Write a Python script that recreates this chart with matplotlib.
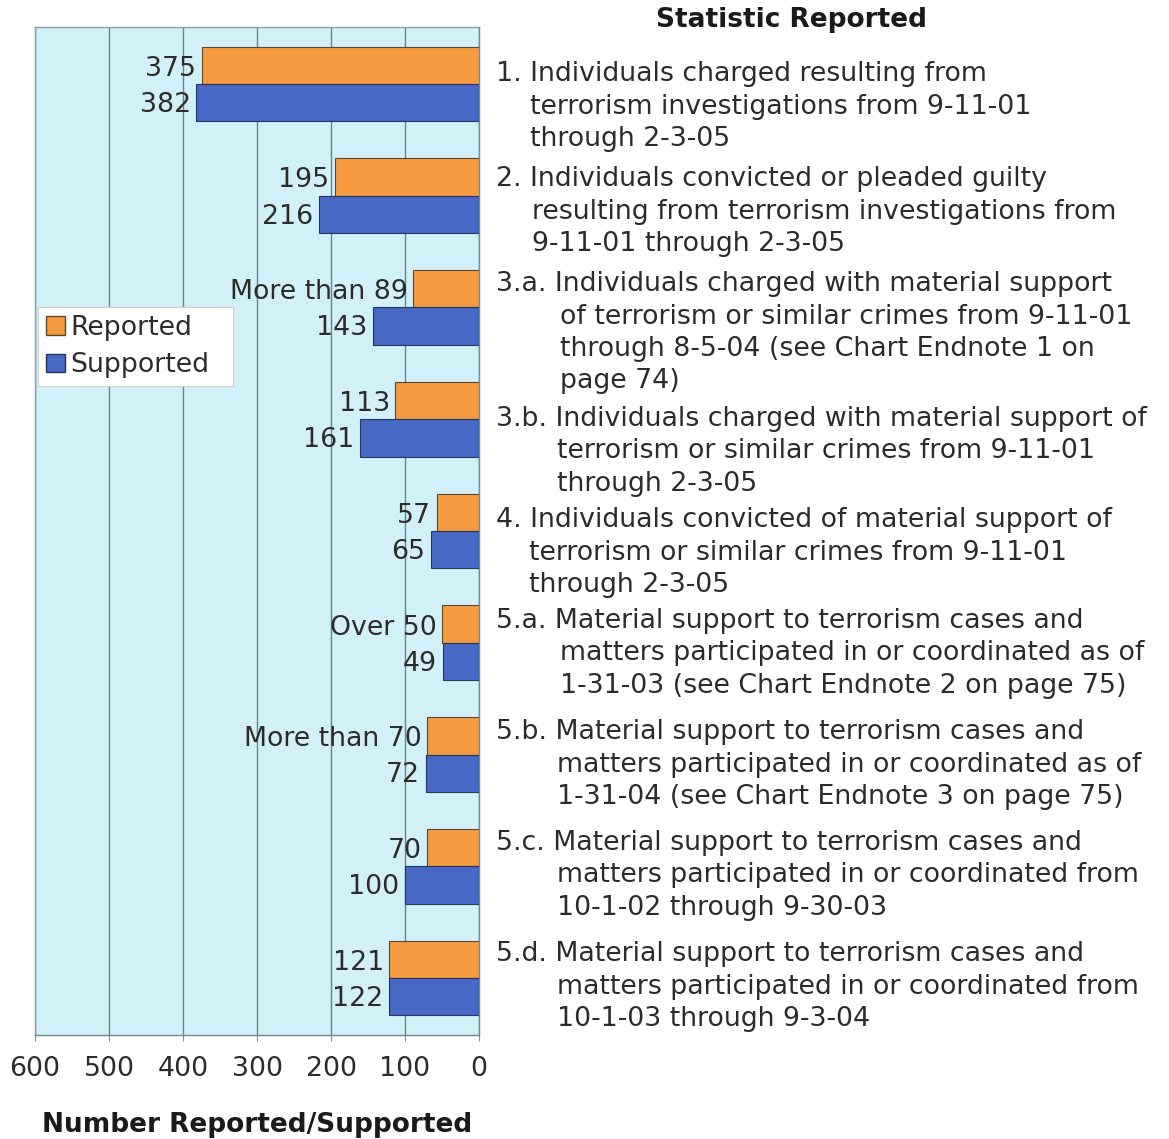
import numpy as np
import matplotlib
matplotlib.use("Agg")
import matplotlib.pyplot as plt
from matplotlib.patches import Patch

# data
reported = [375, 195, 89, 113, 57, 50, 70, 70, 121]
supported = [382, 216, 143, 161, 65, 49, 72, 100, 122]
reported_labels = ["375", "195", "More than 89", "113", "57", "Over 50", "More than 70", "70", "121"]
supported_labels = ["382", "216", "143", "161", "65", "49", "72", "100", "122"]
x_ticks = [600, 500, 400, 300, 200, 100, 0]

prefixes = ["1.", "2.", "3.a.", "3.b.", "4.", "5.a.", "5.b.", "5.c.", "5.d."]
statements = [
    ["Individuals charged resulting from", "terrorism investigations from 9-11-01", "through 2-3-05"],
    ["Individuals convicted or pleaded guilty", "resulting from terrorism investigations from", "9-11-01 through 2-3-05"],
    ["Individuals charged with material support", "of terrorism or similar crimes from 9-11-01",
     "through 8-5-04 (see Chart Endnote 1 on", "page 74)"],
    ["Individuals charged with material support of", "terrorism or similar crimes from 9-11-01", "through 2-3-05"],
    ["Individuals convicted of material support of", "terrorism or similar crimes from 9-11-01", "through 2-3-05"],
    ["Material support to terrorism cases and", "matters participated in or coordinated as of",
     "1-31-03 (see Chart Endnote 2 on page 75)"],
    ["Material support to terrorism cases and", "matters participated in or coordinated as of",
     "1-31-04 (see Chart Endnote 3 on page 75)"],
    ["Material support to terrorism cases and", "matters participated in or coordinated from",
     "10-1-02 through 9-30-03"],
    ["Material support to terrorism cases and", "matters participated in or coordinated from",
     "10-1-03 through 9-3-04"],
]

W, H = 1169, 1139
plt.rcParams["font.family"] = ["DejaVu Sans"]
fig = plt.figure(figsize=(W / 100, H / 100), dpi=100)
ax = fig.add_axes([35 / W, 1 - 1035 / H, 444 / W, 1008 / H])

orange = "#f59a3e"
blue = "#4868c6"
txt = "#2b2b2b"
fs = 19.3

y = np.arange(len(reported))
h = 0.335
ax.barh(y - h / 2, reported, height=h, color=orange, edgecolor="#5b4630", linewidth=0.8, zorder=3)
ax.barh(y + h / 2, supported, height=h, color=blue, edgecolor="#27345e", linewidth=0.8, zorder=3)

for i in range(len(y)):
    ax.annotate(reported_labels[i], (reported[i], y[i] - h / 2), xytext=(-4, -2.5), textcoords="offset points",
                ha="right", va="center", fontsize=fs, color=txt)
    ax.annotate(supported_labels[i], (supported[i], y[i] + h / 2), xytext=(-4, -1.5), textcoords="offset points",
                ha="right", va="center", fontsize=fs, color=txt)

ax.set_xlim(600, 0)
ax.set_ylim(len(y) - 0.49, -0.51)
ax.set_facecolor("#d2f0f7")
ax.set_xticks(x_ticks)
ax.set_xticklabels([str(t) for t in x_ticks], fontsize=fs, color=txt)
ax.tick_params(axis="x", length=4, color="#7a929a", pad=11)
ax.set_yticks([])
ax.grid(axis="x", color="#64848e", linewidth=1, zorder=1)
for s in ax.spines.values():
    s.set_color("#8aa2aa")
    s.set_linewidth(1)
ax.spines["bottom"].set_color("#6e8a92")
ax.spines["right"].set_color("#6e8a92")

ax.set_xlabel("Number Reported/Supported", fontsize=19, fontweight="bold", color="#1a1a1a", labelpad=22)

handles = [Patch(facecolor=orange, edgecolor="#5b4630", label="Reported"),
           Patch(facecolor=blue, edgecolor="#27345e", label="Supported")]
leg = ax.legend(handles=handles, loc="upper left", mode="expand",
                bbox_to_anchor=(3 / 444, (1035 - 383) / 1008, 195 / 444, 76 / 1008),
                fontsize=fs, frameon=True, fancybox=False, framealpha=1, borderpad=0.3, handlelength=0.7,
                handleheight=0.7, handletextpad=0.2, labelspacing=0.42, borderaxespad=0)
leg.get_frame().set_edgecolor("#d0d0d0")
leg.get_frame().set_linewidth(0.8)
for t in leg.get_texts():
    t.set_color(txt)

fig.text(792 / W, 1 - 20 / H, "Statistic Reported", fontsize=19, fontweight="bold",
         ha="center", va="center", color="#1a1a1a")

# numbered statements with hanging indent
first_line = [81, 186, 291, 426, 527, 628, 739, 850, 961]
indent = {"1.": 530, "2.": 532, "3.a.": 560, "3.b.": 557, "4.": 529,
          "5.a.": 560, "5.b.": 557, "5.c.": 557, "5.d.": 557}
for p, lines, y0 in zip(prefixes, statements, first_line):
    fig.text(496 / W, 1 - y0 / H, p + " " + lines[0], fontsize=fs, ha="left", va="baseline", color=txt)
    for k, line in enumerate(lines[1:], start=1):
        fig.text(indent[p] / W, 1 - (y0 + k * 32.5) / H, line, fontsize=fs,
                 ha="left", va="baseline", color=txt)

fig.savefig("out.png", dpi=100)
